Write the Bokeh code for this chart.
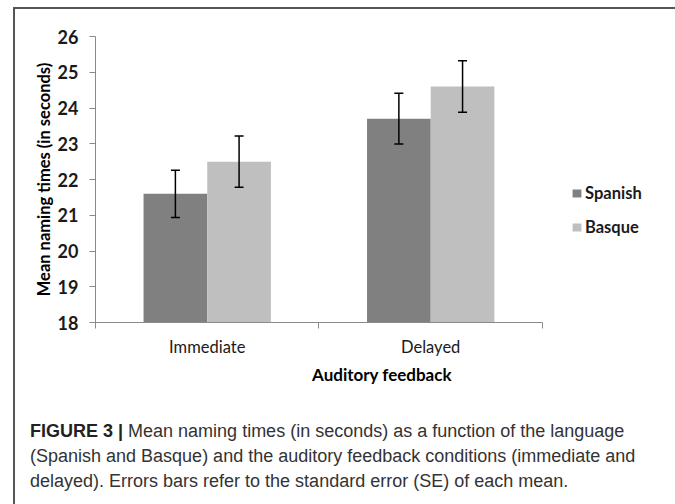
from bokeh.plotting import figure
from bokeh.models import (ColumnDataSource, Range1d, FixedTicker, Whisker, TeeHead,
                          Legend, LegendItem, Div)
from bokeh.layouts import column
from bokeh.transform import dodge
from bokeh.embed import file_html
from bokeh.resources import INLINE

# ---- data ----
categories = ["Immediate", "Delayed"]
spanish_mean = [21.6, 23.7]
basque_mean = [22.5, 24.6]
spanish_se = [0.66, 0.71]
basque_se = [0.72, 0.72]
y_ticks = [18, 19, 20, 21, 22, 23, 24, 25, 26]
series_names = ["Spanish", "Basque"]
x_title = "Auditory feedback"
y_title = "Mean naming times (in seconds)"
caption_bold = "FIGURE 3 |"
caption_lines = [
    "Mean naming times (in seconds) as a function of the language",
    "(Spanish and Basque) and the auditory feedback conditions (immediate and",
    "delayed). Errors bars refer to the standard error (SE) of each mean.",
]

FONT = "Lato"
SP_COL = "#808080"
BA_COL = "#bfbfbf"
AX_COL = "#8a8a8a"

pos = list(range(len(categories)))
src = ColumnDataSource(dict(
    x=pos,
    sp=spanish_mean, ba=basque_mean,
    sp_hi=[m + s for m, s in zip(spanish_mean, spanish_se)],
    sp_lo=[m - s for m, s in zip(spanish_mean, spanish_se)],
    ba_hi=[m + s for m, s in zip(basque_mean, basque_se)],
    ba_lo=[m - s for m, s in zip(basque_mean, basque_se)],
))

BW = 0.285
OFF = BW / 2
X_LO = -0.5
X_HI = len(categories) - 0.5
LEGEND_ROOM = 0.564  # extra frame space (in category units) for the legend on the right

p = figure(width=653, height=395, output_backend="svg", toolbar_location=None,
           x_range=Range1d(X_LO, X_HI + LEGEND_ROOM),
           y_range=Range1d(y_ticks[0], y_ticks[-1]),
           min_border_left=80, min_border_right=0, min_border_top=27,
           min_border_bottom=82)
p.outline_line_color = None
p.xgrid.visible = False
p.ygrid.visible = False
p.background_fill_color = "white"
p.border_fill_color = "white"

r_sp = p.vbar(x=dodge("x", -OFF), top="sp", bottom=y_ticks[0], width=BW, source=src,
              fill_color=SP_COL, line_color=None)
r_ba = p.vbar(x=dodge("x", OFF), top="ba", bottom=y_ticks[0], width=BW, source=src,
              fill_color=BA_COL, line_color=None)

for base, hi, lo in [(dodge("x", -OFF), "sp_hi", "sp_lo"), (dodge("x", OFF), "ba_hi", "ba_lo")]:
    w = Whisker(source=src, base=base, upper=hi, lower=lo, level="overlay",
                line_color="black", line_width=1.5,
                upper_head=TeeHead(size=9, line_color="black", line_width=1.5),
                lower_head=TeeHead(size=9, line_color="black", line_width=1.5))
    p.add_layout(w)

# y axis
ya = p.yaxis[0]
ya.ticker = FixedTicker(ticks=y_ticks, minor_ticks=[])
ya.axis_line_color = AX_COL
ya.major_tick_line_color = AX_COL
ya.major_tick_out = 6
ya.major_tick_in = 0
ya.minor_tick_line_color = None
ya.major_label_text_font = FONT
ya.major_label_text_font_style = "bold"
ya.major_label_text_font_size = "18px"
ya.major_label_text_color = "#1a1a1a"
ya.major_label_standoff = 11
ya.axis_label = y_title
ya.axis_label_text_font = FONT
ya.axis_label_text_font_style = "bold"
ya.axis_label_text_font_size = "16.5px"
ya.axis_label_text_color = "black"
ya.axis_label_standoff = 1

# x axis
xa = p.xaxis[0]
xa.bounds = (X_LO, X_HI)
xa.ticker = FixedTicker(ticks=pos, minor_ticks=[i - 0.5 for i in range(len(categories) + 1)])
xa.major_label_overrides = {i: c for i, c in zip(pos, categories)}
xa.axis_line_color = AX_COL
xa.major_tick_line_color = None
xa.minor_tick_line_color = AX_COL
xa.minor_tick_out = 6
xa.minor_tick_in = 0
xa.major_label_text_font = FONT
xa.major_label_text_font_size = "16.5px"
xa.major_label_text_color = "#1a1a1a"
xa.major_label_standoff = 8
xa.axis_label = x_title
xa.axis_label_text_font = FONT
xa.axis_label_text_font_style = "bold"
xa.axis_label_text_font_size = "17px"
xa.axis_label_text_color = "black"
xa.axis_label_standoff = 4

legend = Legend(items=[LegendItem(label=series_names[0], renderers=[r_sp]),
                       LegendItem(label=series_names[1], renderers=[r_ba])],
                location=(476, 85), orientation="vertical",
                glyph_width=11, glyph_height=10, label_height=20, spacing=14,
                label_standoff=3, padding=0, margin=0,
                border_line_color=None, background_fill_alpha=0,
                label_text_font=FONT, label_text_font_style="bold",
                label_text_font_size="16.5px", label_text_color="#1a1a1a")
p.add_layout(legend, "center")

caption_html = (
    '<div style="font-family:\'Liberation Sans\',Arial,sans-serif;font-size:18px;'
    'line-height:25px;color:#333;padding:10px 0 0 10px;white-space:nowrap;">'
    f'<b style="color:#222">{caption_bold}</b> {caption_lines[0]}<br>'
    f'{caption_lines[1]}<br>{caption_lines[2]}</div>'
)
cap = Div(text=caption_html, width=653, height=95)

layout = column(p, cap, spacing=0,
                styles={"border-top": "2px solid #555", "border-left": "2px solid #555",
                        "border-right": "2px solid #555", "margin-left": "13px",
                        "margin-top": "7px", "background": "white"})

with open("out.html", "w") as f:
    f.write(file_html(layout, INLINE))
